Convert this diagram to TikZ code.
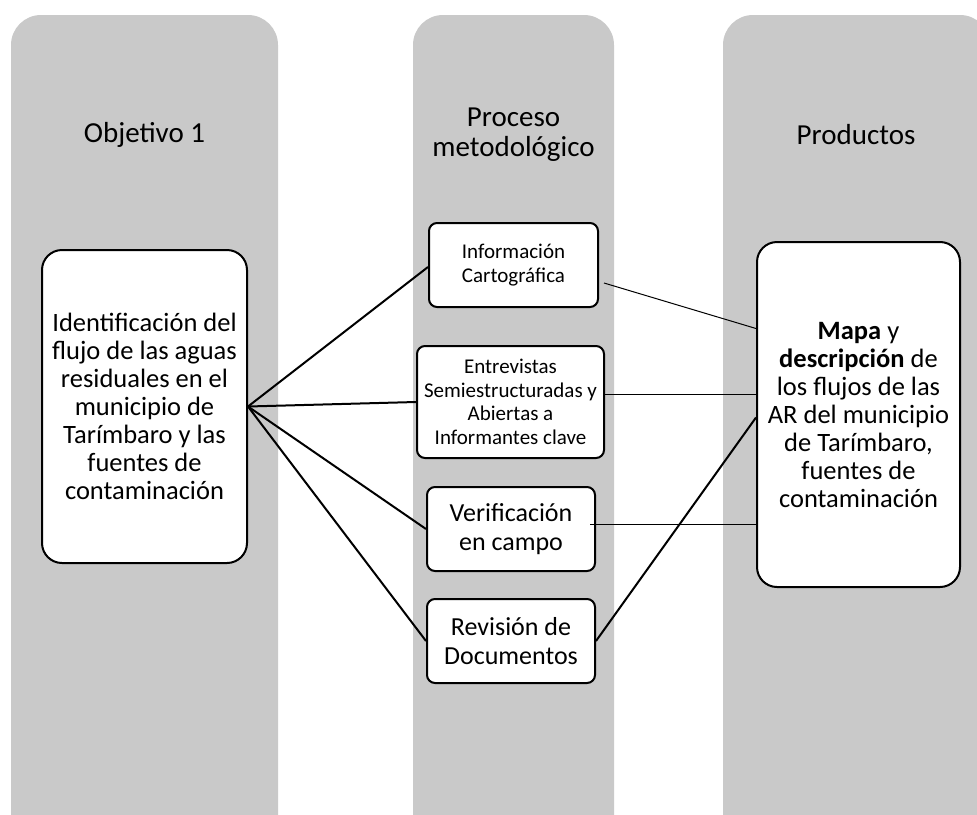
\documentclass[tikz,border=0pt]{standalone}
\usepackage{fontspec}
\setmainfont{Carlito}
\definecolor{colgray}{RGB}{201,201,201}
\begin{document}
\begin{tikzpicture}[x=1pt,y=-1pt,
  colbg/.style={fill=colgray, rounded corners=30pt},
  head/.style={align=center, inner sep=0pt, font=\fontsize{29}{30}\selectfont},
  box/.style={draw=black, line width=2pt, fill=white, align=center, inner sep=0pt},
  bigbox/.style={box, rounded corners=20pt},
  smallbox/.style={box, rounded corners=8pt},
  fbig/.style={font=\fontsize{26.5}{28}\selectfont},
  fsmall/.style={font=\fontsize{21}{23.5}\selectfont},
  fmid/.style={font=\fontsize{26}{29.5}\selectfont},
  heavy/.style={line width=2pt},
  light/.style={line width=1pt}]
\useasboundingbox (0,0) rectangle (977,814);
\clip (0,0) rectangle (977,814);

% background columns
\fill[colbg] (11,15) rectangle (278,860);
\fill[colbg] (413,15) rectangle (614,860);
\fill[colbg] (723,15) rectangle (990,860);

% column titles
\node[head] (h1) at (144.5,135) {Objetivo 1};
\node[head] (h2) at (513.5,135) {Proceso\\metodológico};
\node[head] (h3) at (856,135) {Productos};

% objective
\node[bigbox, fbig, minimum width=205, minimum height=313] (obj) at (144.5,406.5)
  {Identificación del\\flujo de las aguas\\residuales en el\\municipio de\\Tarímbaro y las\\fuentes de\\contaminación};

% methodological steps
\node[smallbox, fsmall, minimum width=169, minimum height=84] (info) at (513.5,265)
  {Información\\Cartográfica};
\node[smallbox, fsmall, minimum width=187, minimum height=112] (entr) at (510.5,402)
  {Entrevistas\\Semiestructuradas y\\Abiertas a\\Informantes clave};
\node[smallbox, fmid, minimum width=168, minimum height=84] (verif) at (511,529)
  {Verificación\\en campo};
\node[smallbox, fmid, minimum width=168, minimum height=84] (rev) at (511,641)
  {Revisión de\\Documentos};

% product
\node[bigbox, fbig, minimum width=203, minimum height=345] (prod) at (858.5,414.5)
  {\textbf{Mapa} y\\\textbf{descripción} de\\los flujos de las\\AR del municipio\\de Tarímbaro,\\fuentes de\\contaminación};

% objective to steps
\draw[heavy] (obj.east) -- ([shift={(0,2)}]info.west);
\draw[heavy] (obj.east) -- (entr.west);
\draw[heavy] (obj.east) -- (verif.west);
\draw[heavy] (obj.east) -- (rev.west);

% steps to product
\draw[light] ([shift={(5,18)}]info.east) -- ([shift={(0,-86)}]prod.west);
\draw[light] ([shift={(0,-8)}]entr.east) -- ([shift={(0,-20.5)}]prod.west);
\draw[light] ([shift={(-6,-5)}]verif.east) -- ([shift={(0,109.5)}]prod.west);
\draw[heavy] (rev.east) -- ([shift={(0,3)}]prod.west);
\end{tikzpicture}
\end{document}
